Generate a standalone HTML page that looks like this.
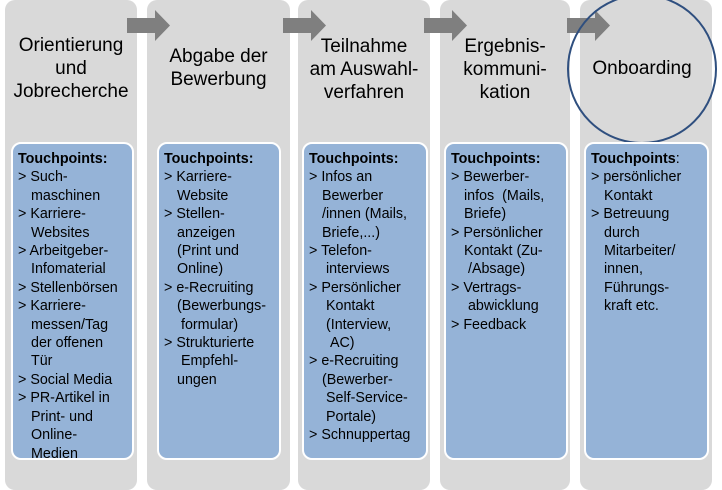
<!DOCTYPE html>
<html><head><meta charset="utf-8"><style>
body{margin:0;width:722px;height:481px;background:#fff;position:relative;overflow:hidden;font-family:"Liberation Sans",sans-serif;}
.col{position:absolute;top:0;height:490px;background:#d9d9d9;border-radius:10px;}
.title{position:absolute;top:0;text-align:center;font-size:19px;line-height:23px;color:#000;white-space:nowrap;}
.box{position:absolute;top:142px;height:318px;background:#95b3d7;border:2px solid #fff;border-radius:10px;box-sizing:border-box;padding:6px 0 0 5px;font-size:14.3px;line-height:18.4px;color:#000;white-space:nowrap;overflow:hidden;}
.box b{font-weight:bold;}
.i{padding-left:13px;text-indent:-13px;}
.arr{position:absolute;}
</style></head><body>
<div class="col" style="left:5px;width:132px"></div>
<div class="col" style="left:147px;width:143px"></div>
<div class="col" style="left:298px;width:132px"></div>
<div class="col" style="left:440px;width:130px"></div>
<div class="col" style="left:580px;width:132px"></div>

<svg class="arr" width="722" height="481" style="left:0;top:0;position:absolute">
<g fill="#7f7f7f">
<polygon points="127,18 155,18 155,10 170,25.5 155,41 155,33 127,33"/>
<polygon points="283,18 311,18 311,10 326,25.5 311,41 311,33 283,33"/>
<polygon points="424,18 452,18 452,10 467,25.5 452,41 452,33 424,33"/>
<polygon points="567,18 595,18 595,10 610,25.5 595,41 595,33 567,33"/>
</g>
<circle cx="642" cy="69" r="74" fill="none" stroke="#2f4f7f" stroke-width="2"/>
</svg>

<div class="title" style="left:5px;width:132px;top:34px">Orientierung<br>und<br>Jobrecherche</div>
<div class="title" style="left:147px;width:143px;top:45px">Abgabe der<br>Bewerbung</div>
<div class="title" style="left:298px;width:132px;top:35px">Teilnahme<br>am Auswahl-<br>verfahren</div>
<div class="title" style="left:440px;width:130px;top:35px">Ergebnis-<br>kommuni-<br>kation</div>
<div class="title" style="left:580px;width:124px;top:57px">Onboarding</div>

<div class="box" style="left:11px;width:123px">
<b>Touchpoints:</b>
<div class="i">&gt; Such-<br>maschinen</div>
<div class="i">&gt; Karriere-<br>Websites</div>
<div class="i">&gt; Arbeitgeber-<br>Infomaterial</div>
<div class="i">&gt; Stellenbörsen</div>
<div class="i">&gt; Karriere-<br>messen/Tag<br>der offenen<br>Tür</div>
<div class="i">&gt; Social Media</div>
<div class="i">&gt; PR-Artikel in<br>Print- und<br>Online-<br>Medien</div>
</div>
<div class="box" style="left:157px;width:124px">
<b>Touchpoints:</b>
<div class="i">&gt; Karriere-<br>Website</div>
<div class="i">&gt; Stellen-<br>anzeigen<br>(Print und<br>Online)</div>
<div class="i">&gt; e-Recruiting<br>(Bewerbungs-<br>&nbsp;formular)</div>
<div class="i">&gt; Strukturierte<br>&nbsp;Empfehl-<br>ungen</div>
</div>
<div class="box" style="left:302px;width:126px">
<b>Touchpoints:</b>
<div class="i">&gt; Infos an<br>Bewerber<br>/innen (Mails,<br>Briefe,...)</div>
<div class="i">&gt; Telefon-<br>&nbsp;interviews</div>
<div class="i">&gt; Persönlicher<br>&nbsp;Kontakt<br>&nbsp;(Interview,<br>&nbsp;&nbsp;AC)</div>
<div class="i">&gt; e-Recruiting<br>(Bewerber-<br>&nbsp;Self-Service-<br>&nbsp;Portale)</div>
<div class="i">&gt; Schnuppertag</div>
</div>
<div class="box" style="left:444px;width:124px">
<b>Touchpoints:</b>
<div class="i">&gt; Bewerber-<br>infos&nbsp; (Mails,<br>Briefe)</div>
<div class="i">&gt; Persönlicher<br>Kontakt (Zu-<br>&nbsp;/Absage)</div>
<div class="i">&gt; Vertrags-<br>&nbsp;abwicklung</div>
<div class="i">&gt; Feedback</div>
</div>
<div class="box" style="left:584px;width:125px">
<b>Touchpoints</b>:
<div class="i">&gt; persönlicher<br>Kontakt</div>
<div class="i">&gt; Betreuung<br>durch<br>Mitarbeiter/<br>innen,<br>Führungs-<br>kraft etc.</div>
</div>
</body></html>
